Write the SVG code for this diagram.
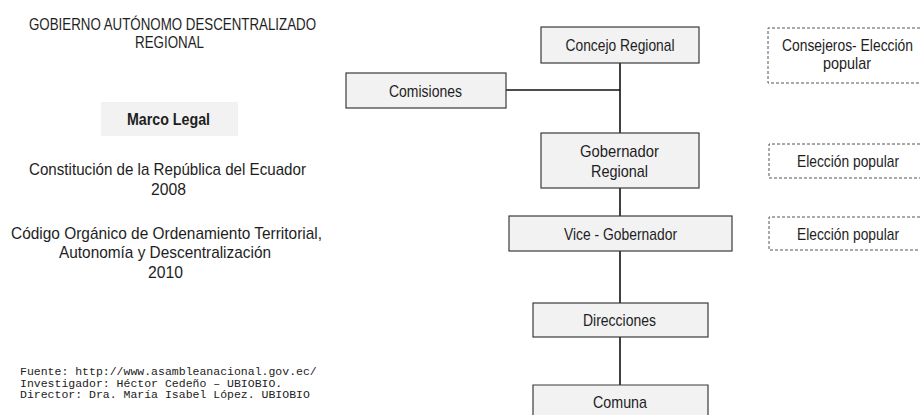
<svg xmlns="http://www.w3.org/2000/svg" width="920" height="415" viewBox="0 0 920 415">
<style>
  text { font-family: "Liberation Sans", Arial, sans-serif; font-size: 17px; fill: #1e1e1e; }
  .c { text-anchor: middle; }
  .b { font-weight: bold; }
  .mono { font-family: "Liberation Mono", "Courier New", monospace; font-size: 11.5px; fill: #222; }
  .node { fill: #f2f2f2; stroke: #3a3a3a; stroke-width: 1.2; }
  .dash { fill: none; stroke: #555; stroke-width: 1; stroke-dasharray: 3 2; }
  .conn { stroke: #111; stroke-width: 1.6; fill: none; }
</style>
<rect width="920" height="415" fill="#ffffff"/>

<g id="left-info">
  <text class="c" x="172.5" y="30" textLength="287" lengthAdjust="spacingAndGlyphs">GOBIERNO AUTÓNOMO DESCENTRALIZADO</text>
  <text class="c" x="169.5" y="48" textLength="69" lengthAdjust="spacingAndGlyphs">REGIONAL</text>
  <g id="marco-legal">
    <rect x="101" y="102" width="137" height="34" fill="#f2f2f2"/>
    <text class="c b" x="168.5" y="125" textLength="83" lengthAdjust="spacingAndGlyphs">Marco Legal</text>
  </g>
  <text class="c" x="167.5" y="175" textLength="277" lengthAdjust="spacingAndGlyphs">Constitución de la República del Ecuador</text>
  <text class="c" x="168.5" y="195" textLength="35" lengthAdjust="spacingAndGlyphs">2008</text>
  <text class="c" x="166.5" y="239" textLength="311" lengthAdjust="spacingAndGlyphs">Código Orgánico de Ordenamiento Territorial,</text>
  <text class="c" x="165" y="258" textLength="212" lengthAdjust="spacingAndGlyphs">Autonomía y Descentralización</text>
  <text class="c" x="165.5" y="278" textLength="35" lengthAdjust="spacingAndGlyphs">2010</text>
  <text class="mono" x="20" y="375">Fuente: http://www.asambleanacional.gov.ec/</text>
  <text class="mono" x="20" y="386.5">Investigador: Héctor Cedeño – UBIOBIO.</text>
  <text class="mono" x="20" y="398">Director: Dra. María Isabel López. UBIOBIO</text>
</g>

<g id="connectors">
  <line class="conn" x1="620" y1="63" x2="620" y2="133"/>
  <line class="conn" x1="506" y1="90" x2="620" y2="90"/>
  <line class="conn" x1="620" y1="188" x2="620" y2="216"/>
  <line class="conn" x1="620" y1="251" x2="620" y2="303"/>
  <line class="conn" x1="620" y1="337" x2="620" y2="385"/>
</g>

<g id="concejo-regional">
  <rect class="node" x="541" y="27" width="158" height="36"/>
  <text class="c" x="620" y="51" textLength="109" lengthAdjust="spacingAndGlyphs">Concejo Regional</text>
</g>
<g id="comisiones">
  <rect class="node" x="346" y="73" width="160" height="35"/>
  <text class="c" x="425.5" y="96.5" textLength="73" lengthAdjust="spacingAndGlyphs">Comisiones</text>
</g>
<g id="gobernador-regional">
  <rect class="node" x="541" y="133" width="158" height="55"/>
  <text class="c" x="619.5" y="157" textLength="79" lengthAdjust="spacingAndGlyphs">Gobernador</text>
  <text class="c" x="619.5" y="177" textLength="57" lengthAdjust="spacingAndGlyphs">Regional</text>
</g>
<g id="vice-gobernador">
  <rect class="node" x="509" y="216" width="223" height="35"/>
  <text class="c" x="620.5" y="239.5" textLength="113" lengthAdjust="spacingAndGlyphs">Vice - Gobernador</text>
</g>
<g id="direcciones">
  <rect class="node" x="533" y="303" width="175" height="34"/>
  <text class="c" x="619.5" y="325.5" textLength="73" lengthAdjust="spacingAndGlyphs">Direcciones</text>
</g>
<g id="comuna">
  <path class="node" d="M533,415 V385 H708 V415"/>
  <text class="c" x="620" y="408" textLength="54" lengthAdjust="spacingAndGlyphs">Comuna</text>
</g>

<g id="consejeros-eleccion">
  <path class="dash" d="M920,28 H768 V83 H920"/>
  <text class="c" x="847.5" y="51" textLength="131" lengthAdjust="spacingAndGlyphs">Consejeros- Elección</text>
  <text class="c" x="847" y="69" textLength="48" lengthAdjust="spacingAndGlyphs">popular</text>
</g>
<g id="eleccion-gobernador">
  <path class="dash" d="M920,144 H769 V178 H920"/>
  <text class="c" x="848" y="167" textLength="102" lengthAdjust="spacingAndGlyphs">Elección popular</text>
</g>
<g id="eleccion-vice">
  <path class="dash" d="M920,217 H769 V250 H920"/>
  <text class="c" x="848" y="239.5" textLength="102" lengthAdjust="spacingAndGlyphs">Elección popular</text>
</g>
</svg>
